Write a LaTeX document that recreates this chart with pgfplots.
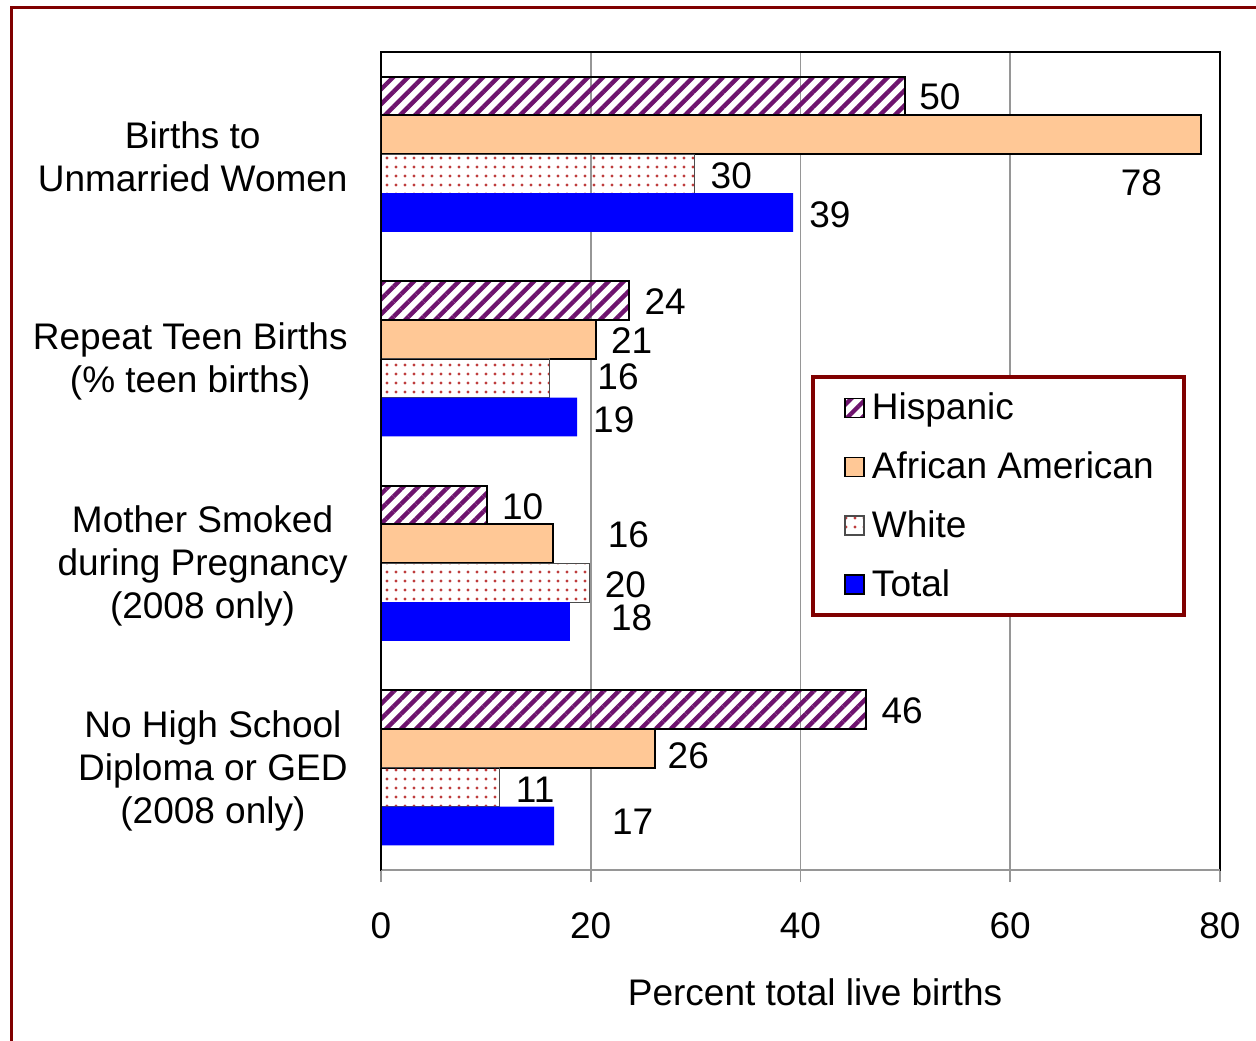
\documentclass[border=0pt]{standalone}
\usepackage{pgfplots}
\pgfplotsset{compat=1.18}
\usepackage{fontspec}
\setmainfont{Liberation Sans}
\usetikzlibrary{patterns.meta}

\definecolor{hisp}{RGB}{110,20,110}
\definecolor{peach}{RGB}{255,200,150}
\definecolor{wdots}{RGB}{190,60,60}
\definecolor{frame}{RGB}{128,0,0}
\definecolor{gridg}{RGB}{150,150,150}

\newcommand{\chartfont}{\fontsize{18.5}{21.5}\selectfont}

\begin{document}
\begin{tikzpicture}
\begin{axis}[
    at={(0,0)}, anchor=south west,
    scale only axis,
    width=419.5pt, height=409pt,
    xbar, bar width=0.19,
    xmin=0, xmax=80,
    ymin=-0.5, ymax=3.5,
    xtick={0,20,40,60,80},
    ytick={0,1,2,3},
    yticklabels={{No High School\\Diploma or GED\\(2008 only)},
                 {Mother Smoked\\during Pregnancy\\(2008 only)},
                 {Repeat Teen Births\\(\% teen births)},
                 {Births to\\Unmarried Women}},
    font=\chartfont,
    tick label style={font=\chartfont},
    yticklabel style={align=center, inner sep=0pt, xshift=-10.5pt, yshift=-1.5pt},
    xticklabel style={anchor=base, inner sep=0pt, yshift=-28.25pt},
    /pgf/number format/assume math mode=true,
    tick align=outside,
    major tick length=6pt,
    xtick pos=bottom,
    ytick style={draw=none},
    xtick style={draw=gridg, line width=0.8pt},
    xmajorgrids,
    grid style={draw=gridg, line width=0.8pt},
    axis line style={black, line width=1pt},
    xlabel={Percent total live births},
    xlabel style={at={(axis description cs:0.5,0)}, anchor=base, yshift=-67.5pt, xshift=7.25pt},
    legend style={at={(rel axis cs:0.5125,0.605)}, anchor=north west,
        draw=frame, line width=2pt, font=\chartfont,
        inner xsep=11pt, inner ysep=4pt, row sep=6.5pt,
        nodes={inner sep=4pt}},
    legend cell align=left,
    legend image code/.code={
        \pgfpathrectangle{\pgfpoint{0pt}{-4.75pt}}{\pgfpoint{14.5pt}{9.5pt}}
        \pgfusepath{use as bounding box}
        \draw[#1, line width=0.8pt] (5pt,-4.75pt) rectangle (14.5pt,4.75pt);
    },
]
\addplot[bar shift=0.285, draw=black, line width=1pt,
    pattern={Lines[angle=45, distance=5.3pt, line width=2.2pt]}, pattern color=hisp]
    coordinates {(50.0,3) (23.6,2) (10.1,1) (46.2,0)};
\addplot[bar shift=0.095, draw=black, line width=1pt, fill=peach]
    coordinates {(78.2,3) (20.5,2) (16.4,1) (26.1,0)};
\addplot[bar shift=-0.095, draw=black!70, line width=0.5pt,
    pattern={Dots[distance=4.5pt, radius=0.8pt]}, pattern color=wdots]
    coordinates {(29.9,3) (16.1,2) (19.9,1) (11.3,0)};
\addplot[bar shift=-0.285, draw=none, fill=blue]
    coordinates {(39.3,3) (18.7,2) (18.0,1) (16.5,0)};
\legend{Hispanic, African American, White, Total}

\draw[gridg, line width=1pt] (rel axis cs:0,0) -- (rel axis cs:1,0);
\draw[black, line width=1.5pt] (rel axis cs:0,0) -- (rel axis cs:0,1);

\begin{scope}[every node/.style={font=\chartfont, inner sep=0pt, anchor=center}]
\node at (axis cs:53.3,3.280) {50};
\node at (axis cs:72.5,2.859) {78};
\node at (axis cs:33.4,2.894) {30};
\node at (axis cs:42.8,2.703) {39};
\node at (axis cs:27.1,2.278) {24};
\node at (axis cs:23.9,2.087) {21};
\node at (axis cs:22.6,1.911) {16};
\node at (axis cs:22.2,1.700) {19};
\node at (axis cs:13.5,1.275) {10};
\node at (axis cs:23.6,1.138) {16};
\node at (axis cs:23.3,0.894) {20};
\node at (axis cs:23.9,0.732) {18};
\node at (axis cs:49.7,0.278) {46};
\node at (axis cs:29.3,0.057) {26};
\node at (axis cs:14.7,-0.109) {11};
\node at (axis cs:24.0,-0.265) {17};
\end{scope}
\end{axis}
\path[use as bounding box] (-190.5pt,-85pt) rectangle (437.5pt,435pt);
\draw[frame, line width=1.5pt] (-184.5pt,-90pt) -- (-184.5pt,431pt) -- (445pt,431pt);
\end{tikzpicture}
\end{document}
